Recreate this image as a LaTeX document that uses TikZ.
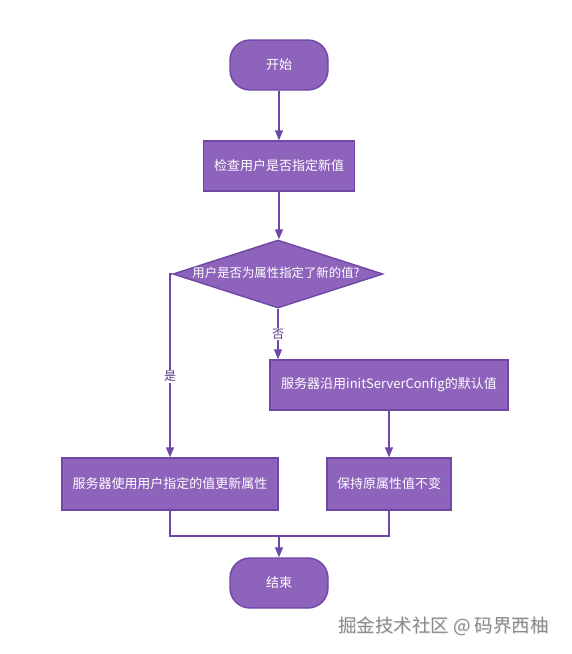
\documentclass[tikz,border=0pt]{standalone}
\usepackage{fontspec}
\setmainfont{Noto Sans CJK SC}
\usetikzlibrary{shapes.geometric,arrows.meta}
\definecolor{boxfill}{HTML}{8E63BB}
\definecolor{boxline}{HTML}{6F47A6}
\definecolor{wm}{HTML}{8A8A8A}
\tikzset{
  proc/.style={draw=boxline,fill=boxfill,line width=1.4pt,text=white,inner sep=0pt,font=\fontsize{13}{15}\selectfont},
  term/.style={proc,rounded corners=20pt,minimum width=98pt,minimum height=50pt},
  dia/.style={draw=boxline,fill=boxfill,line width=1.4pt,diamond,inner sep=0pt,minimum width=210pt,minimum height=68pt},
  conn/.style={draw=boxline,line width=1.4pt,-{Triangle[width=8pt,length=10pt]}},
  seg/.style={draw=boxline,line width=1.4pt},
  lab/.style={fill=white,text=boxline!80!black,inner sep=1pt,font=\fontsize{12}{14}\selectfont}
}
\begin{document}
\begin{tikzpicture}[x=1pt,y=-1pt]
\useasboundingbox (0,0) rectangle (571,654);
\node[term] (start) at (279,65) {开始};
\node[proc,minimum width=151pt,minimum height=50pt] (check) at (279,166) {检查用户是否指定新值};
\node[dia] (dec) at (278,274) {};
\node[text=white,font=\fontsize{12.4}{15}\selectfont,inner sep=0pt] (dectext) at (276,273) {用户是否为属性指定了新的值?};
\node[proc,minimum width=238pt,minimum height=50pt] (keepdef) at (389,385) {服务器沿用initServerConfig的默认值};
\node[proc,minimum width=216pt,minimum height=52pt] (update) at (170,484) {服务器使用用户指定的值更新属性};
\node[proc,minimum width=124pt,minimum height=52pt] (keep) at (389,484) {保持原属性值不变};
\node[term] (end) at (279,583) {结束};
\coordinate (ybend) at (170,274);
\coordinate (merge) at (279,536);

\draw[conn] (start) -- (check);
\draw[conn] (check.south) -- (check.south |- dec.north);
\draw[conn] (dec.west) -- (ybend) -- (update.north) node[lab,pos=0.56] {是};
\draw[conn] (dec.south) -- (dec.south |- keepdef.north) node[lab,pos=0.5] {否};
\draw[conn] (keepdef.south) -- (keep.north);
\draw[seg] (update.south) -- (update.south |- merge) -- (keep.south |- merge) -- (keep.south);
\draw[conn] (merge) -- (end.north);

\node[text=white!85!gray,font=\fontsize{18.5}{20}\selectfont,inner sep=0pt] at (444.5,627) {掘金技术社区 @ 码界西柚};
\node[text=wm,font=\fontsize{18.5}{20}\selectfont,inner sep=0pt] (wmark) at (443.5,626) {掘金技术社区 @ 码界西柚};
\end{tikzpicture}
\end{document}
